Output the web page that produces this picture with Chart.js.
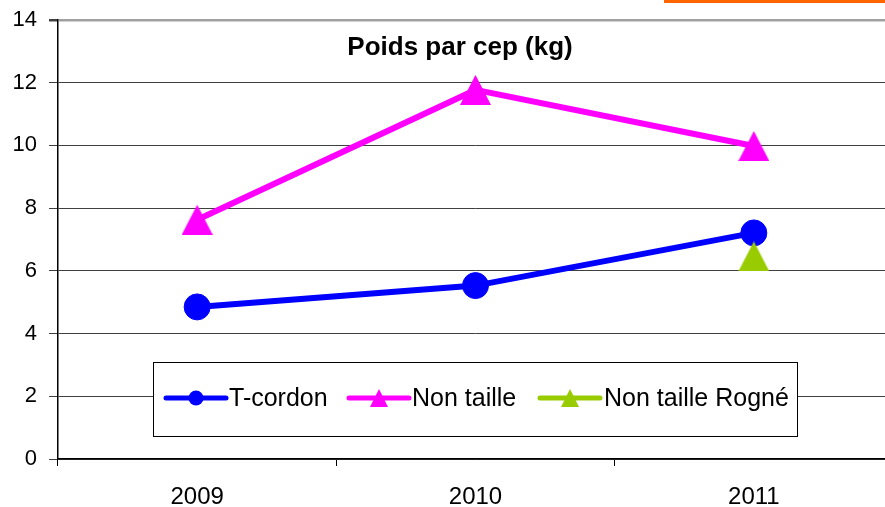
<!DOCTYPE html>
<html>
<head>
<meta charset="utf-8">
<script src="https://cdn.jsdelivr.net/npm/chart.js@4/dist/chart.umd.min.js"></script>
<style>
  html, body { margin: 0; padding: 0; background: #fff; overflow: hidden; width: 885px; height: 507px; }
  #wrap { position: relative; width: 907px; height: 507px; }
</style>
</head>
<body>
<div id="wrap"><canvas id="chart" width="907" height="507"></canvas></div>
<script>
// Poids par cep (kg)
const years = ['2009', '2010', '2011'];
const tCordon = [4.85, 5.53, 7.21];
const nonTaille = [7.63, 11.77, 9.98];
const nonTailleRogne = [null, null, 6.46];
const yTicks = [0, 2, 4, 6, 8, 10, 12, 14];

const FONT = "'Liberation Sans', Arial, sans-serif";
const BLUE = '#0000ff', PINK = '#ff00ff', GREEN = '#99cc00';

function triangle(color, w, h) {
  const c = document.createElement('canvas');
  c.width = w; c.height = h;
  const g = c.getContext('2d');
  g.fillStyle = color;
  g.beginPath();
  g.moveTo(w / 2, 0); g.lineTo(w, h); g.lineTo(0, h);
  g.closePath(); g.fill();
  return c;
}

// title, legend box and the orange strip are painted on top of the chart
const extras = {
  id: 'extras',
  afterDraw(chart) {
    const ctx = chart.ctx;
    ctx.save();
    ctx.fillStyle = '#ff6600';
    ctx.fillRect(664, 0, 230, 3);

    ctx.fillStyle = '#000';
    ctx.font = 'bold 26px ' + FONT;
    ctx.textAlign = 'center';
    ctx.textBaseline = 'middle';
    ctx.fillText('Poids par cep (kg)', 460, 48);

    // legend
    ctx.fillStyle = '#fff';
    ctx.fillRect(153.5, 362.5, 644, 74);
    ctx.strokeStyle = '#000';
    ctx.lineWidth = 1;
    ctx.strokeRect(153.5, 362.5, 644, 74);
    const y = 398;
    const items = [
      { x0: 166, x1: 226, color: BLUE, mark: 'circle', text: 'T-cordon', tx: 229 },
      { x0: 349, x1: 409, color: PINK, mark: 'tri', text: 'Non taille', tx: 412 },
      { x0: 540, x1: 600, color: GREEN, mark: 'tri', text: 'Non taille Rogné', tx: 604 }
    ];
    items.forEach(it => {
      ctx.strokeStyle = it.color;
      ctx.lineWidth = 5;
      ctx.lineCap = 'round';
      ctx.beginPath(); ctx.moveTo(it.x0, y); ctx.lineTo(it.x1, y); ctx.stroke();
      const cx = (it.x0 + it.x1) / 2;
      ctx.fillStyle = it.color;
      if (it.mark === 'circle') {
        ctx.beginPath(); ctx.arc(cx, y, 7.5, 0, Math.PI * 2); ctx.fill();
      } else {
        ctx.beginPath();
        ctx.moveTo(cx, y - 9); ctx.lineTo(cx + 9, y + 9); ctx.lineTo(cx - 9, y + 9);
        ctx.closePath(); ctx.fill();
      }
      ctx.fillStyle = '#000';
      ctx.font = '25px ' + FONT;
      ctx.textAlign = 'left';
      ctx.textBaseline = 'middle';
      ctx.fillText(it.text, it.tx, y + 1);
    });
    ctx.restore();
  }
};

new Chart(document.getElementById('chart'), {
  type: 'line',
  data: {
    labels: years,
    datasets: [
      { label: 'T-cordon', data: tCordon, borderColor: BLUE, backgroundColor: BLUE,
        borderWidth: 6, pointRadius: 13, pointBorderWidth: 1, pointStyle: 'circle', order: 3 },
      { label: 'Non taille', data: nonTaille, borderColor: PINK, backgroundColor: PINK,
        borderWidth: 6, pointStyle: triangle(PINK, 31, 30), order: 2 },
      { label: 'Non taille Rogné', data: nonTailleRogne, borderColor: GREEN, backgroundColor: GREEN,
        borderWidth: 6, pointStyle: triangle(GREEN, 31, 30), order: 1 }
    ]
  },
  options: {
    responsive: false,
    animation: false,
    devicePixelRatio: 1,
    layout: { padding: { top: 20, left: 0, right: 0, bottom: 0 } },
    plugins: { legend: { display: false }, title: { display: false }, tooltip: { enabled: false } },
    scales: {
      x: {
        type: 'category',
        offset: true,
        afterFit: s => { s.height = 48; s.paddingLeft = 0; s.paddingRight = 0; },
        grid: { drawOnChartArea: false, tickLength: 7, tickColor: '#000', offset: true },
        border: { color: '#000', width: 1.5 },
        ticks: { color: '#000', font: { family: FONT, size: 24 }, padding: 17 }
      },
      y: {
        min: 0, max: 14,
        afterFit: s => { s.width = 58; s.paddingTop = 0; s.paddingBottom = 0; },
        afterBuildTicks: s => { s.ticks = yTicks.map(v => ({ value: v })); },
        grid: {
          color: c => c.tick && c.tick.value === 14 ? '#a0a0a0' : '#404040',
          lineWidth: c => c.tick && c.tick.value === 14 ? 2.5 : 1,
          tickLength: 9, tickColor: '#404040'
        },
        border: { color: '#000', width: 1.5 },
        ticks: { color: '#000', font: { family: FONT, size: 22 }, padding: 12 }
      }
    }
  },
  plugins: [extras]
});
</script>
</body>
</html>
